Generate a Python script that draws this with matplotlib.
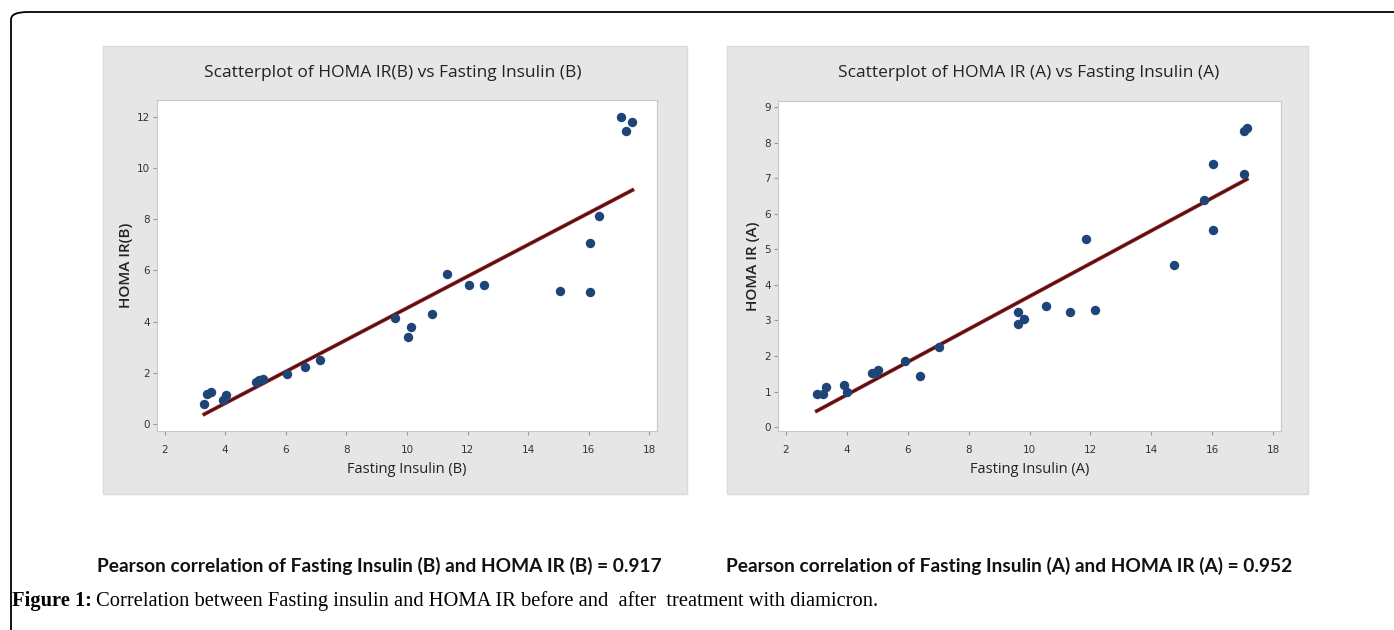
import matplotlib
matplotlib.use("Agg")
import matplotlib.pyplot as plt
import numpy as np
from matplotlib.patches import Rectangle, FancyBboxPatch

# Before treatment (B)
insulin_b = [3.31, 3.41, 3.52, 3.94, 4.02, 5.01, 5.13, 5.24, 6.03, 6.63, 7.14,
             9.62, 10.03, 10.13, 10.84, 11.33, 12.05, 12.54, 15.04, 16.04, 16.04,
             16.35, 17.05, 17.24, 17.44]
homa_b = [0.78, 1.15, 1.24, 0.92, 1.11, 1.63, 1.70, 1.75, 1.96, 2.20, 2.48,
          4.14, 3.40, 3.79, 4.31, 5.88, 5.42, 5.42, 5.20, 7.08, 5.15,
          8.14, 12.0, 11.45, 11.82]

# After treatment (A)
insulin_a = [3.02, 3.23, 3.33, 3.93, 4.01, 4.82, 4.98, 5.02, 5.91, 6.42, 7.03,
             9.61, 9.61, 9.83, 10.54, 11.34, 11.85, 12.15, 14.75, 15.72, 16.03,
             16.03, 17.04, 17.04, 17.13]
homa_a = [0.92, 0.92, 1.12, 1.17, 0.98, 1.53, 1.52, 1.60, 1.86, 1.45, 2.25,
          3.23, 2.91, 3.05, 3.40, 3.23, 5.28, 3.30, 4.55, 6.39, 7.40,
          5.53, 7.12, 8.34, 8.40]

x_ticks = [2, 4, 6, 8, 10, 12, 14, 16, 18]
y_ticks_b = [0, 2, 4, 6, 8, 10, 12]
y_ticks_a = [0, 1, 2, 3, 4, 5, 6, 7, 8, 9]

r_b = 0.917
r_a = 0.952

W, H = 1394, 630
fig = plt.figure(figsize=(W / 100, H / 100), dpi=100)
fig.patch.set_facecolor("white")


def fbox(x0, y0, x1, y1):
    # pixel box (top-left origin) -> figure fraction [l, b, w, h]
    return [x0 / W, 1 - y1 / H, (x1 - x0) / W, (y1 - y0) / H]


# outer frame (only top / left edges are visible in the crop)
frame = FancyBboxPatch((11 / W, -0.2), 1.2, 1.2 - 12 / H,
                       boxstyle="round,pad=0,rounding_size=0.012",
                       transform=fig.transFigure, facecolor="none",
                       edgecolor="black", linewidth=1.3, clip_on=False,
                       zorder=-5)
fig.patches.append(frame)

title_font = "Open Sans"


def panel(gray, plot, xs, ys, yticks, ylim, title, title_x, xlabel, ylabel):
    l, b, w, h = fbox(*gray)
    fig.patches.append(Rectangle((l, b), w, h, transform=fig.transFigure,
                                 facecolor="#e6e6e6", edgecolor="#d9d9d9",
                                 linewidth=1.0, zorder=-4))
    ax = fig.add_axes(fbox(*plot))
    ax.set_facecolor("white")
    ax.scatter(xs, ys, s=46, color="#1f4478", zorder=3, linewidths=0)
    k, c = np.polyfit(xs, ys, 1)
    xx = np.array([min(xs), max(xs)])
    ax.plot(xx, k * xx + c, color="#8c1c1c", linewidth=2.7, zorder=2)
    ax.plot(xx, k * xx + c, color="#3a1010", linewidth=0.9, zorder=2)
    ax.set_xlim(1.75, 18.25)
    ax.set_ylim(*ylim)
    ax.set_xticks(x_ticks)
    ax.set_yticks(yticks)
    ax.tick_params(labelsize=7.5, length=3, color="#999999", labelcolor="#333333",
                   pad=2)
    ax.tick_params(axis="x", pad=7)
    for s in ax.spines.values():
        s.set_color("#c8c8c8")
    ax.set_xlabel(xlabel, fontsize=10.5, family=title_font, color="#222222",
                  labelpad=5)
    ax.set_ylabel(ylabel, fontsize=11, family=title_font, color="#222222",
                  fontweight="semibold", labelpad=3)
    fig.text(title_x / W, 1 - 73 / H, title, ha="center", va="center",
             fontsize=12.5, family=title_font, color="#222222")
    return ax


panel((103, 46, 687, 494), (157, 100, 657, 431), insulin_b, homa_b,
      y_ticks_b, (-0.29, 12.68),
      "Scatterplot of HOMA IR(B) vs Fasting Insulin (B)", 393,
      "Fasting Insulin (B)", "HOMA IR(B)")
panel((727, 46, 1308, 494), (778, 101, 1281, 431), insulin_a, homa_a,
      y_ticks_a, (-0.11, 9.17),
      "Scatterplot of HOMA IR (A) vs Fasting Insulin (A)", 1029,
      "Fasting Insulin (A)", "HOMA IR (A)")

fig.text(379 / W, 1 - 566 / H,
         f"Pearson correlation of Fasting Insulin (B) and HOMA IR (B) = {r_b}",
         ha="center", va="center", fontsize=13.8, fontweight="bold",
         family="Lato", color="#111111")
fig.text(1009 / W, 1 - 566 / H,
         f"Pearson correlation of Fasting Insulin (A) and HOMA IR (A) = {r_a}",
         ha="center", va="center", fontsize=13.8, fontweight="bold",
         family="Lato", color="#111111")

t1 = fig.text(12 / W, 1 - 601 / H, "Figure 1:", ha="left", va="center",
              fontsize=14.8, fontweight="bold", family="Liberation Serif")
fig.canvas.draw()
bb = t1.get_window_extent(fig.canvas.get_renderer())
fig.text(bb.x1 / W + 4 / W, 1 - 601 / H,
         "Correlation between Fasting insulin and HOMA IR before and  after  treatment with diamicron.",
         ha="left", va="center", fontsize=14.8, family="Liberation Serif")

fig.savefig("out.png", dpi=100)
